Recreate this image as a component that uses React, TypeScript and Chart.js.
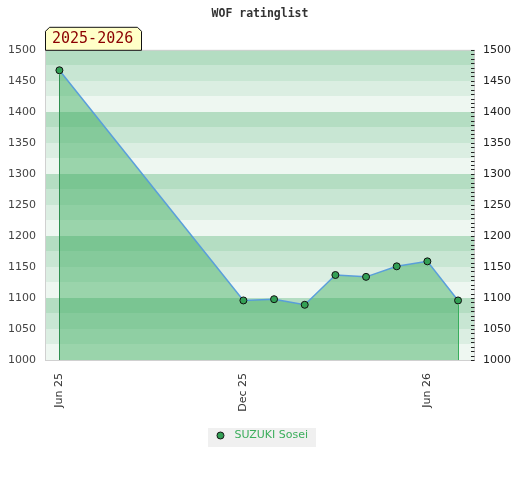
import { useEffect, useRef } from "react";
import { Chart, registerables } from "chart.js";
Chart.register(...registerables);

const chartTitle = "WOF ratinglist";
const seasonLabel = "2025-2026";
const seriesName = "SUZUKI Sosei";
// months counted from Jun 2025
const monthIndex = [0, 6, 7, 8, 9, 10, 11, 12, 13];
const ratings = [1467, 1096, 1098, 1089, 1137, 1134, 1151, 1159, 1096];
const xTickValues = [0, 6, 12];
const xTickLabels = ["Jun 25", "Dec 25", "Jun 26"];
const yMin = 1000;
const yMax = 1500;

const bandColors = ["#eef7f1", "#dbeee2", "#c8e6d3", "#b4ddc2"];

const decor = {
  id: "decor",
  beforeDraw(chart: any) {
    const ctx = chart.ctx;
    const lg = chart.legend;
    if (lg && lg.legendHitBoxes && lg.legendHitBoxes.length) {
      const hb = lg.legendHitBoxes[0];
      ctx.save();
      ctx.fillStyle = "#f0f0f0";
      ctx.fillRect(Math.round(hb.left - 4), Math.round(hb.top + hb.height / 2 - 8), Math.round(hb.width + 12), 19);
      ctx.restore();
    }
  },
  beforeDatasetsDraw(chart: any) {
    const { ctx, chartArea: a, scales } = chart;
    const y = scales.y;
    ctx.save();
    for (let v = yMin; v < yMax; v += 25) {
      const top = Math.round(y.getPixelForValue(v + 25));
      const bot = Math.round(y.getPixelForValue(v));
      const k = ((v - yMin) / 25) % 4;
      ctx.fillStyle = bandColors[k];
      ctx.fillRect(a.left, top, a.right - a.left, bot - top);
    }
    ctx.restore();
  },
  afterDatasetsDraw(chart: any) {
    const { ctx, chartArea: a, scales } = chart;
    const meta = chart.getDatasetMeta(0);
    const pts = meta.data;
    ctx.save();
    ctx.lineWidth = 1;
    [pts[0], pts[pts.length - 1]].forEach((p: any, i: number) => {
      ctx.strokeStyle = i === 0 ? "#2f8f50" : "#38ad5c";
      const x = Math.round(p.x) + 0.5;
      ctx.beginPath();
      ctx.moveTo(x, p.y + 4);
      ctx.lineTo(x, a.bottom);
      ctx.stroke();
    });
    // border
    ctx.strokeStyle = "#d0d0d0";
    ctx.strokeRect(a.left + 0.5, a.top + 0.5, a.right - a.left, a.bottom - a.top);
    // minor ticks on right
    const y1 = scales.y1;
    ctx.strokeStyle = "#222";
    for (let i = 0; i <= 70; i++) {
      const v = yMin + (i * 50) / 7;
      const py = Math.round(y1.getPixelForValue(v)) + 0.5;
      ctx.beginPath();
      ctx.moveTo(a.right - 3, py);
      ctx.lineTo(a.right + 0.5, py);
      ctx.stroke();
    }
    ctx.restore();
  },
  afterDraw(chart: any) {
    const { ctx, chartArea: a } = chart;
    ctx.save();
    ctx.font = "15px 'DejaVu Sans Mono'";
    const tw = ctx.measureText(seasonLabel).width;
    const l = a.left + 0.5;
    const r = Math.round(a.left + tw + 15) + 0.5;
    const t = a.top - 23 + 0.5;
    const b = a.top + 0.5;
    const c = 4;
    ctx.beginPath();
    ctx.moveTo(l, b);
    ctx.lineTo(l, t + c);
    ctx.lineTo(l + c, t);
    ctx.lineTo(r - c, t);
    ctx.lineTo(r, t + c);
    ctx.lineTo(r, b);
    ctx.closePath();
    ctx.fillStyle = "#ffffc8";
    ctx.fill();
    ctx.strokeStyle = "#111";
    ctx.lineWidth = 1;
    ctx.stroke();
    ctx.fillStyle = "#8b0000";
    ctx.textBaseline = "middle";
    ctx.textAlign = "left";
    ctx.fillText(seasonLabel, a.left + 7, t + 12);
    ctx.restore();
  },
};

function makeMarker(): HTMLCanvasElement {
  const c = document.createElement("canvas");
  c.width = 9;
  c.height = 9;
  const g = c.getContext("2d")!;
  g.beginPath();
  g.arc(4.5, 4.5, 3.5, 0, Math.PI * 2);
  g.fillStyle = "#33a055";
  g.fill();
  g.strokeStyle = "#111";
  g.lineWidth = 1;
  g.stroke();
  return c;
}

export default function App() {
  const ref = useRef<HTMLCanvasElement>(null);
  useEffect(() => {
    if (!ref.current) return;
    Chart.defaults.font.family = "'DejaVu Sans'";
    const marker = makeMarker();
    const chart = new Chart(ref.current, {
      type: "line",
      data: {
        datasets: [
          {
            label: seriesName,
            data: monthIndex.map((m, i) => ({ x: m, y: ratings[i] })),
            borderColor: "rgba(85,155,220,0.95)",
            borderWidth: 1.5,
            backgroundColor: "rgba(55,169,89,0.46)",
            fill: "start",
            tension: 0,
            pointRadius: 3.5,
            pointBorderWidth: 1,
            pointBorderColor: "#111",
            pointBackgroundColor: "#33a055",
          },
        ],
      },
      options: {
        responsive: false,
        animation: false,
        layout: { padding: { bottom: 29, left: 0, right: 0 } },
        plugins: {
          title: {
            display: true,
            text: chartTitle,
            color: "#333",
            font: { family: "'DejaVu Sans Mono'", size: 11.5, weight: "bold" },
            padding: { top: 7, bottom: 29 },
          },
          legend: {
            position: "bottom",
            labels: {
              usePointStyle: true,
              pointStyleWidth: 17,
              color: "#3cae5c",
              font: { size: 11 },
              boxHeight: 8,
              padding: 10,
              generateLabels: () => [
                {
                  text: seriesName,
                  fillStyle: "#33a055",
                  strokeStyle: "#111",
                  lineWidth: 1,
                  pointStyle: marker,
                  fontColor: "#3cae5c",
                  datasetIndex: 0,
                  hidden: false,
                } as any,
              ],
            },
          },
          tooltip: { enabled: false },
        },
        scales: {
          x: {
            type: "linear",
            min: -0.47,
            max: 13.52,
            grid: { display: false },
            border: { display: false },
            afterBuildTicks: (s: any) => {
              s.ticks = xTickValues.map((v) => ({ value: v }));
            },
            afterFit: (s: any) => {
              s.height = 60;
            },
            ticks: {
              minRotation: 90,
              maxRotation: 90,
              padding: 5,
              color: "#333",
              font: { size: 11 },
              callback: (v: any) => {
                const i = xTickValues.indexOf(Number(v));
                return i >= 0 ? xTickLabels[i] : "";
              },
            },
          },
          y: {
            position: "left",
            min: yMin,
            max: yMax,
            grid: { display: false, drawTicks: false },
            border: { display: false },
            afterFit: (s: any) => {
              s.width = 45;
            },
            ticks: { stepSize: 50, padding: 9, color: "#444", font: { size: 11 }, callback: (v: any) => String(v) },
          },
          y1: {
            position: "right",
            min: yMin,
            max: yMax,
            grid: { display: false, drawTicks: false },
            border: { display: false },
            afterFit: (s: any) => {
              s.width = 46;
            },
            ticks: { stepSize: 50, padding: 9, color: "#222", font: { size: 11 }, callback: (v: any) => String(v) },
          },
        },
      } as any,
      plugins: [decor],
    });
    return () => chart.destroy();
  }, []);
  return (
    <div style={{ position: "absolute", left: 0, top: 0, width: 520, height: 480, background: "#fff" }}>
      <canvas ref={ref} width={520} height={480} />
    </div>
  );
}
